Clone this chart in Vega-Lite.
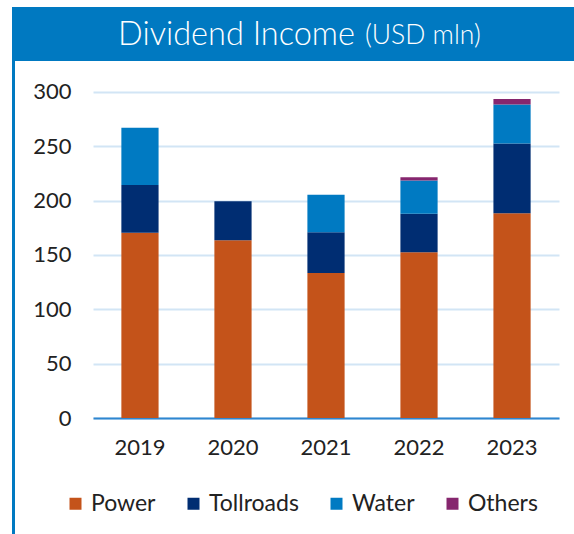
{
  "$schema": "https://vega.github.io/schema/vega-lite/v6.json",
  "background": "white",
  "padding": {"left": 12, "top": 7, "right": 0, "bottom": 0},
  "config": {"view": {"stroke": null}, "font": "Lato", "axis": {"labelFontWeight": 400}, "legend": {"labelFontWeight": 400}},
  "spacing": 0,
  "vconcat": [
    {
      "width": 562,
      "height": 54,
      "view": {"fill": "#0079C1", "stroke": null},
      "data": {"values": [{"main": "Dividend Income", "unit": "(USD mln)"}]},
      "layer": [
        {"mark": {"type": "text", "align": "right", "baseline": "alphabetic", "fontSize": 32.5, "fontWeight": 300, "color": "white", "dx": 62, "dy": 11}, "encoding": {"text": {"field": "main"}}},
        {"mark": {"type": "text", "align": "left", "baseline": "alphabetic", "fontSize": 26.5, "fontWeight": 300, "color": "white", "dx": 72, "dy": 10}, "encoding": {"text": {"field": "unit"}}}
      ]
    },
    {
      "spacing": 17,
      "hconcat": [
        {
          "width": 3,
          "height": 473,
          "view": {"fill": "#0079C1", "stroke": null},
          "data": {"values": [{"t": ""}]},
          "mark": {"type": "text"},
          "encoding": {"text": {"field": "t"}}
        },
        {
          "width": 466,
          "height": 357,
          "data": {"values": [
            {"year": "2019", "segment": "Power", "idx": 1, "value": 170.5},
            {"year": "2019", "segment": "Tollroads", "idx": 2, "value": 44},
            {"year": "2019", "segment": "Water", "idx": 3, "value": 52.5},
            {"year": "2020", "segment": "Power", "idx": 1, "value": 163.5},
            {"year": "2020", "segment": "Tollroads", "idx": 2, "value": 36},
            {"year": "2021", "segment": "Power", "idx": 1, "value": 133.5},
            {"year": "2021", "segment": "Tollroads", "idx": 2, "value": 37.5},
            {"year": "2021", "segment": "Water", "idx": 3, "value": 34.5},
            {"year": "2022", "segment": "Power", "idx": 1, "value": 152.5},
            {"year": "2022", "segment": "Tollroads", "idx": 2, "value": 35.5},
            {"year": "2022", "segment": "Water", "idx": 3, "value": 30.5},
            {"year": "2022", "segment": "Others", "idx": 4, "value": 3},
            {"year": "2023", "segment": "Power", "idx": 1, "value": 188.5},
            {"year": "2023", "segment": "Tollroads", "idx": 2, "value": 64},
            {"year": "2023", "segment": "Water", "idx": 3, "value": 36},
            {"year": "2023", "segment": "Others", "idx": 4, "value": 5}
          ]},
          "mark": {"type": "bar"},
          "encoding": {
            "x": {"field": "year", "type": "ordinal", "scale": {"paddingInner": 0.6, "paddingOuter": 0.305},
              "axis": {"title": null, "labelAngle": 0, "labelFontSize": 22, "labelColor": "#222222", "labelPadding": 19, "ticks": false, "domainColor": "#2E86D0", "domainWidth": 2, "grid": false}},
            "y": {"field": "value", "type": "quantitative", "stack": "zero", "scale": {"domain": [0, 328.5], "nice": false},
              "axis": {"title": null, "values": [0, 50, 100, 150, 200, 250, 300], "ticks": false, "labelPadding": 22, "labelFontSize": 22, "labelColor": "#222222", "domain": false, "gridColor": "#D2E5F5", "gridWidth": 2}},
            "color": {"field": "segment", "type": "nominal",
              "scale": {"domain": ["Power", "Tollroads", "Water", "Others"], "range": ["#C4531A", "#002D72", "#007AC2", "#86266E"]},
              "legend": {"title": null, "orient": "none", "direction": "horizontal", "legendX": 52, "legendY": 485, "padding": 0, "symbolType": "square", "symbolSize": 144, "symbolStrokeWidth": 0, "labelFontSize": 23, "labelColor": "#222222", "labelOffset": 4, "columnPadding": 26}},
            "order": {"field": "idx", "type": "quantitative"}
          }
        }
      ]
    }
  ]
}
